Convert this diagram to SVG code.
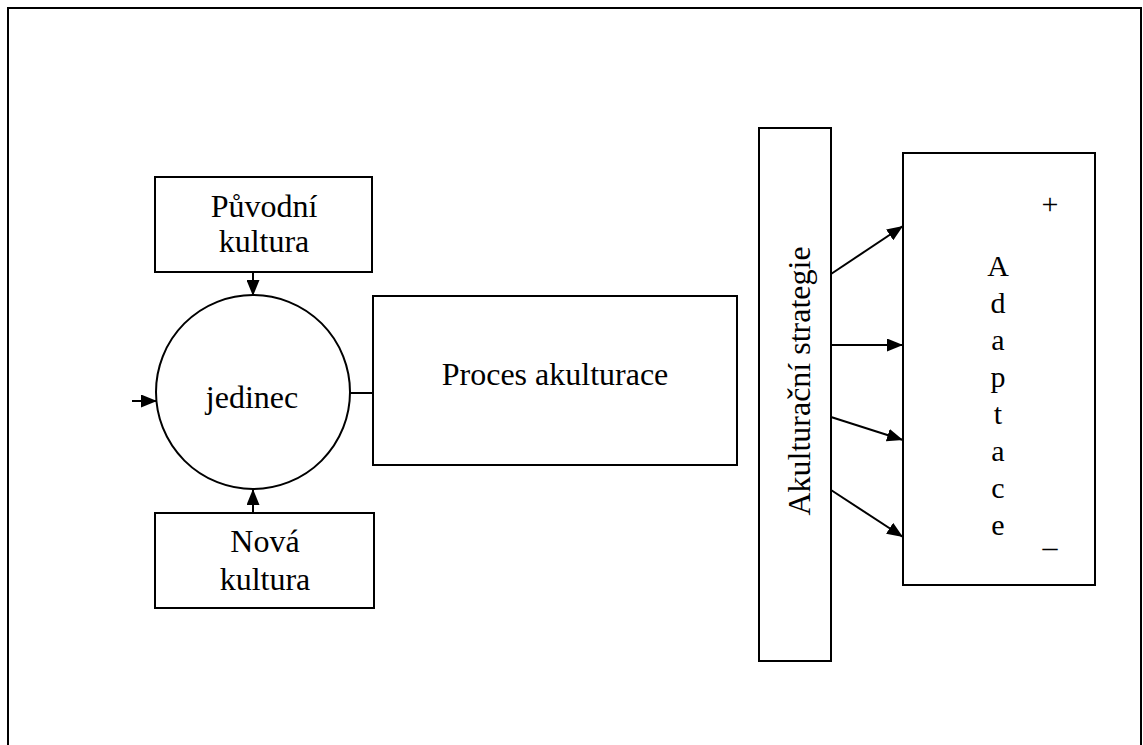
<svg xmlns="http://www.w3.org/2000/svg" width="1143" height="745" viewBox="0 0 1143 745">
  <style>
    .box { fill: #fff; stroke: #000; stroke-width: 2; }
    .lbl { font-family: "Liberation Serif", "Times New Roman", serif; font-size: 32px; fill: #000; text-anchor: middle; }
    .sym { font-size: 30px; }
    .wire { stroke: #000; stroke-width: 2; fill: none; }
  </style>
  <defs>
    <marker id="head" viewBox="0 0 16 13" refX="16" refY="6.5" markerWidth="16" markerHeight="13" markerUnits="userSpaceOnUse" orient="auto">
      <path d="M0,0 L16,6.5 L0,13 Z" fill="#000"/>
    </marker>
  </defs>

  <rect x="0" y="0" width="1143" height="745" fill="#fff"/>
  <!-- page frame, open at the bottom -->
  <path d="M8,750 V8 H1141 V750" class="wire"/>

  <g id="puvodni-kultura">
    <rect class="box" x="155" y="177" width="217" height="95"/>
    <text class="lbl" x="264" y="217">Původní</text>
    <text class="lbl" x="264" y="252">kultura</text>
  </g>

  <g id="jedinec">
    <circle class="box" cx="253" cy="392" r="97"/>
    <text class="lbl" x="252" y="408">jedinec</text>
  </g>

  <g id="nova-kultura">
    <rect class="box" x="155" y="513" width="219" height="95"/>
    <text class="lbl" x="265" y="552">Nová</text>
    <text class="lbl" x="265" y="590">kultura</text>
  </g>

  <g id="proces-akulturace">
    <rect class="box" x="373" y="296" width="364" height="169"/>
    <text class="lbl" x="555" y="385">Proces akulturace</text>
  </g>

  <g id="akulturacni-strategie">
    <rect class="box" x="759" y="128" width="72" height="533"/>
    <text class="lbl" transform="translate(810,381) rotate(-90)">Akulturační strategie</text>
  </g>

  <g id="adaptace">
    <rect class="box" x="903" y="153" width="192" height="432"/>
    <text class="lbl sym" x="1050" y="214">+</text>
    <text class="lbl sym" x="998" y="276">A</text>
    <text class="lbl sym" x="998" y="313">d</text>
    <text class="lbl sym" x="998" y="350">a</text>
    <text class="lbl sym" x="998" y="387">p</text>
    <text class="lbl sym" x="998" y="424">t</text>
    <text class="lbl sym" x="998" y="461">a</text>
    <text class="lbl sym" x="998" y="498">c</text>
    <text class="lbl sym" x="998" y="535">e</text>
    <text class="lbl sym" x="1050" y="557">–</text>
  </g>

  <g id="connectors">
    <line class="wire" x1="253" y1="272" x2="253" y2="296" marker-end="url(#head)"/>
    <line class="wire" x1="253" y1="513" x2="253" y2="489" marker-end="url(#head)"/>
    <line class="wire" x1="132" y1="401" x2="157" y2="401" marker-end="url(#head)"/>
    <line class="wire" x1="350" y1="393" x2="373" y2="393"/>
    <line class="wire" x1="831" y1="274" x2="903" y2="226" marker-end="url(#head)"/>
    <line class="wire" x1="831" y1="345" x2="903" y2="345" marker-end="url(#head)"/>
    <line class="wire" x1="831" y1="417" x2="903" y2="440" marker-end="url(#head)"/>
    <line class="wire" x1="831" y1="490" x2="903" y2="537" marker-end="url(#head)"/>
  </g>
</svg>
